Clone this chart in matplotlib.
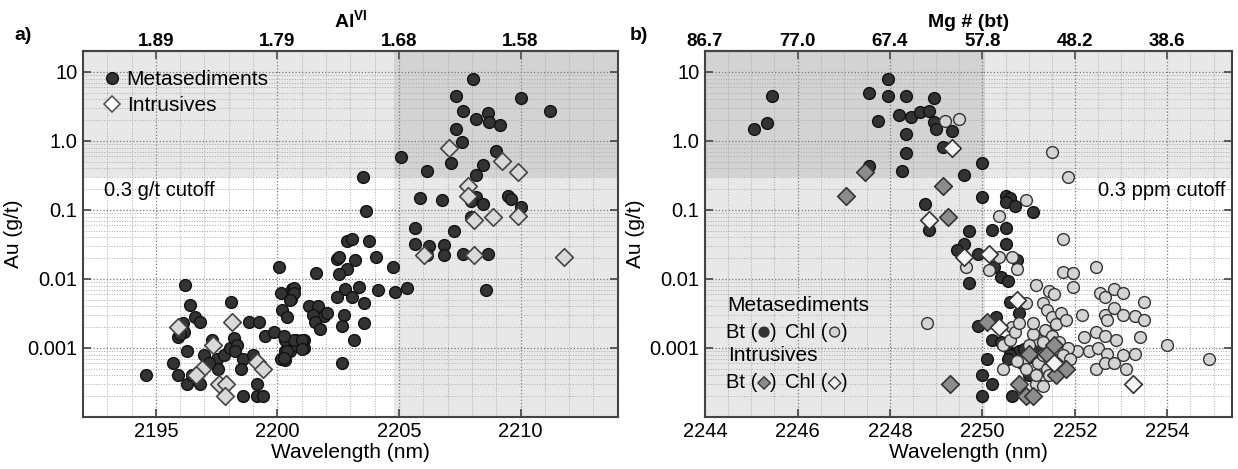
import matplotlib.pyplot as plt
from matplotlib.lines import Line2D
from matplotlib.ticker import FixedLocator, MultipleLocator, LogLocator, NullFormatter, NullLocator

plt.rcParams['font.family'] = ['Liberation Sans', 'DejaVu Sans']
plt.rcParams['mathtext.fontset'] = 'custom'
plt.rcParams['mathtext.rm'] = 'Liberation Sans'
plt.rcParams['mathtext.bf'] = 'Liberation Sans:bold'

# ---- panel a: AlOH wavelength vs Au ----
a_meta_wl = [2194.6, 2196.2, 2196.4, 2196.6, 2196.8, 2196.1, 2196.15, 2195.9, 2196.3, 2195.7,
             2195.9, 2196.3, 2196.8, 2196.5, 2197.0, 2197.3, 2198.1, 2197.5, 2197.55, 2197.8,
             2198.05, 2198.2, 2198.35, 2198.25, 2198.6, 2198.5, 2198.85, 2199.25, 2199.0, 2199.15,
             2198.6, 2199.15, 2199.4, 2199.5, 2199.85, 2200.05, 2200.15, 2200.6, 2200.55, 2200.2,
             2200.4, 2200.3, 2200.15, 2200.3, 2200.75, 2201.1, 2200.5, 2200.75, 2201.1, 2200.3,
             2203.5, 2203.65, 2202.85, 2203.05, 2203.75, 2202.45, 2202.55, 2203.2, 2204.05, 2204.75,
             2202.85, 2202.55, 2201.6, 2203.35, 2204.15, 2204.85, 2205.35, 2202.8, 2202.45, 2203.05,
             2203.55, 2202.75, 2202.65, 2203.55, 2203.15, 2202.65, 2201.3, 2201.65, 2201.45, 2201.9,
             2201.55, 2201.75, 2202.05, 2200.7, 2200.7, 2200.5, 2200.7, 2201.0, 2201.0, 2200.4,
             2200.25, 2200.25, 2197.2, 2196.0,
             2208.05, 2207.35, 2210.0, 2211.2, 2207.65, 2208.15, 2208.65, 2208.7, 2209.15, 2207.35,
             2207.6, 2205.1, 2209.0, 2208.45, 2207.15, 2206.15, 2208.15, 2205.85, 2206.75, 2208.15,
             2207.95, 2208.45, 2209.5, 2209.6, 2210.0, 2207.95, 2205.65, 2207.25, 2205.65, 2206.25,
             2206.85, 2206.15, 2206.85, 2207.65, 2208.65, 2208.6]
a_meta_au = [0.0004, 0.0081, 0.0042, 0.0028, 0.0024, 0.0023, 0.0017, 0.00145, 0.00091, 0.0006,
             0.00041, 0.0003, 0.0003, 0.0004, 0.0008, 0.0013, 0.0046, 0.00069, 0.0005, 0.0008,
             0.001, 0.0014, 0.0011, 0.0009, 0.00069, 0.0005, 0.0024, 0.0024, 0.0008, 0.0003,
             0.0002, 0.0002, 0.0002, 0.0015, 0.0017, 0.0147, 0.0062, 0.0072, 0.0051, 0.0036,
             0.0028, 0.0009, 0.0007, 0.0013, 0.0013, 0.0013, 0.0009, 0.0011, 0.001, 0.00066,
             0.30, 0.095, 0.036, 0.038, 0.036, 0.0195, 0.021, 0.0186, 0.021, 0.015,
             0.0138, 0.0117, 0.0123, 0.0076, 0.0069, 0.0065, 0.0074, 0.0071, 0.0055, 0.0055,
             0.0045, 0.0030, 0.0021, 0.0023, 0.0013, 0.0006, 0.004, 0.004, 0.003, 0.0029,
             0.0024, 0.0019, 0.0032, 0.0074, 0.0062, 0.005, 0.0013, 0.0013, 0.00095, 0.0009,
             0.00072, 0.0015, 0.0006, 0.0016,
             7.9, 4.5, 4.2, 2.7, 2.7, 2.1, 2.5, 1.87, 1.7, 1.5,
             0.98, 0.59, 0.71, 0.45, 0.48, 0.37, 0.32, 0.15, 0.138, 0.155,
             0.135, 0.123, 0.158, 0.144, 0.11, 0.079, 0.054, 0.049, 0.032, 0.030,
             0.031, 0.022, 0.022, 0.023, 0.023, 0.0069]
a_intr_wl = [2195.9, 2198.15, 2197.35, 2196.9, 2196.65, 2199.15, 2199.4, 2197.6, 2197.9, 2197.85,
             2207.05, 2209.25, 2209.9, 2207.85, 2207.85, 2208.1, 2208.85, 2209.9, 2206.05, 2208.1,
             2211.8]
a_intr_au = [0.002, 0.0024, 0.0011, 0.0005, 0.0004, 0.00063, 0.00049, 0.0003, 0.0003, 0.0002,
             0.78, 0.51, 0.36, 0.22, 0.158, 0.071, 0.078, 0.081, 0.022, 0.022,
             0.021]
a_top_ticks = [2195, 2200, 2205, 2210]
a_top_labels = ['1.89', '1.79', '1.68', '1.58']

# ---- panel b: FeOH/MgOH wavelength vs Au ----
b_meta_bt_wl = [2245.45, 2245.05, 2245.35, 2247.55, 2247.95, 2247.95, 2248.35, 2248.95, 2247.75, 2248.2,
                2248.45, 2248.65, 2248.85, 2248.95, 2249.0, 2249.35, 2248.35, 2248.35, 2249.15, 2247.55,
                2248.25, 2250.0, 2249.6, 2250.0, 2248.75, 2248.85, 2249.7, 2250.2, 2249.6, 2249.45,
                2249.9, 2249.7, 2250.5, 2250.6, 2250.5, 2250.7, 2251.1, 2250.5, 2250.25, 2250.75,
                2250.4, 2250.55, 2250.5, 2250.6, 2250.8, 2249.9, 2250.3, 2250.2, 2250.5, 2250.7,
                2250.8, 2250.6, 2250.1, 2250.0, 2250.2, 2250.0, 2250.55, 2250.65, 2251.0, 2250.85,
                2250.9, 2250.4, 2251.05, 2251.2]
b_meta_bt_au = [4.5, 1.5, 1.8, 4.9, 7.9, 4.5, 4.5, 4.2, 1.96, 2.4,
                2.2, 2.6, 2.7, 1.9, 1.5, 1.4, 1.25, 0.66, 0.81, 0.44,
                0.37, 0.48, 0.32, 0.152, 0.12, 0.052, 0.049, 0.051, 0.032, 0.026,
                0.023, 0.0087, 0.16, 0.15, 0.13, 0.115, 0.093, 0.055, 0.0148, 0.019,
                0.0107, 0.0093, 0.032, 0.0046, 0.0032, 0.0021, 0.0028, 0.0013, 0.00105, 0.00085,
                0.0009, 0.0008, 0.0007, 0.0004, 0.0003, 0.0002, 0.00068, 0.0002, 0.0004, 0.0006,
                0.00095, 0.0012, 0.00075, 0.001]
b_meta_chl_wl = [2249.2, 2249.5, 2251.5, 2251.85, 2250.95, 2250.35, 2249.65, 2250.15, 2250.35, 2250.65,
                 2250.75, 2251.15, 2248.8, 2250.95, 2250.65, 2250.45, 2250.45, 2251.15, 2251.2, 2251.75,
                 2251.75, 2251.95, 2251.95, 2252.45, 2252.55, 2252.65, 2252.85, 2253.05, 2253.5, 2251.45,
                 2251.55, 2252.15, 2252.65, 2252.85, 2252.7, 2253.05, 2253.3, 2253.5, 2252.45, 2252.65,
                 2252.2, 2252.9, 2253.4, 2254.0, 2254.9, 2252.3, 2252.5, 2252.7, 2253.05, 2253.3,
                 2252.45, 2252.65, 2252.85, 2253.1, 2252.05, 2251.3, 2251.4, 2251.5, 2251.6, 2251.7,
                 2251.8, 2251.35, 2251.5, 2251.65, 2251.85, 2251.45, 2251.3, 2251.75, 2251.6, 2251.4,
                 2251.9, 2251.2, 2251.1, 2251.0, 2250.9, 2250.95, 2250.75, 2250.6, 2250.7, 2251.1,
                 2251.3, 2251.45, 2251.7, 2251.15, 2251.3, 2250.8]
b_meta_chl_au = [1.97, 2.1, 0.68, 0.30, 0.14, 0.081, 0.015, 0.0135, 0.021, 0.021,
                 0.0138, 0.0083, 0.0023, 0.0045, 0.002, 0.0011, 0.0005, 0.0003, 0.0006, 0.038,
                 0.0126, 0.012, 0.0076, 0.0148, 0.0063, 0.0055, 0.0072, 0.0062, 0.0046, 0.0066,
                 0.0060, 0.003, 0.003, 0.0038, 0.0025, 0.003, 0.0029, 0.0025, 0.0017, 0.0015,
                 0.00145, 0.0013, 0.00145, 0.0011, 0.0007, 0.0009, 0.001, 0.00083, 0.00079, 0.00081,
                 0.0005, 0.0006, 0.0006, 0.0005, 0.0009, 0.0045, 0.0035, 0.0028, 0.0022, 0.0032,
                 0.0025, 0.0018, 0.0015, 0.0012, 0.001, 0.0009, 0.0008, 0.0008, 0.0006, 0.0005,
                 0.0007, 0.0013, 0.0016, 0.0011, 0.0007, 0.0005, 0.00065, 0.0013, 0.0017, 0.0023,
                 0.0012, 0.0004, 0.0005, 0.0004, 0.00028, 0.0023]
b_intr_bt_wl = [2247.45, 2247.05, 2249.15, 2249.25, 2249.3, 2250.1, 2251.0, 2250.8, 2250.95, 2251.1,
                2251.4, 2251.55, 2251.6, 2251.8]
b_intr_bt_au = [0.36, 0.158, 0.22, 0.078, 0.0003, 0.0024, 0.00081, 0.0003, 0.0002, 0.0002,
                0.00081, 0.0011, 0.0004, 0.0005]
b_intr_chl_wl = [2249.35, 2248.85, 2249.6, 2250.15, 2250.75, 2250.35, 2251.55, 2253.25]
b_intr_chl_au = [0.78, 0.072, 0.021, 0.023, 0.0049, 0.002, 0.0006, 0.0003]
b_top_ticks = [2244, 2246, 2248, 2250, 2252, 2254]
b_top_labels = ['86.7', '77.0', '67.4', '57.8', '48.2', '38.6']

y_ticks = [0.001, 0.01, 0.1, 1, 10]
y_labels = ['0.001', '0.01', '0.1', '1.0', '10']

DARK = '#333333'
SPINE = '#444444'
FS = 14.5


def style_axis(ax, xlim, major, minor, top_ticks, top_labels, top_title):
    ax.set_yscale('log')
    ax.set_xlim(*xlim)
    ax.set_ylim(1e-4, 20)
    ax.xaxis.set_major_locator(MultipleLocator(major))
    ax.xaxis.set_minor_locator(MultipleLocator(minor))
    ax.yaxis.set_major_locator(FixedLocator(y_ticks))
    ax.set_yticklabels(y_labels)
    ax.yaxis.set_minor_locator(LogLocator(subs=range(2, 10)))
    ax.yaxis.set_minor_formatter(NullFormatter())
    ax.grid(which='major', ls=':', color='#777777', lw=0.9)
    ax.grid(which='minor', ls=':', color='#aaaaaa', lw=0.7)
    ax.set_axisbelow(True)
    ax.tick_params(which='major', direction='in', length=6, width=1.2, color=SPINE,
                   labelsize=FS, right=True, top=False, pad=4)
    ax.tick_params(which='minor', length=0)
    for s in ax.spines.values():
        s.set_color(SPINE)
        s.set_linewidth(1.5)
    ax.set_xlabel('Wavelength (nm)', fontsize=15, labelpad=1)
    ax.set_ylabel('Au (g/t)', fontsize=15, labelpad=3)

    sec = ax.secondary_xaxis('top')
    sec.set_ticks(top_ticks, labels=top_labels)
    sec.xaxis.set_minor_locator(NullLocator())
    sec.tick_params(direction='in', length=6, width=1.2, color=SPINE, labelsize=13.5, pad=1)
    for lab in sec.get_xticklabels():
        lab.set_fontweight('bold')
    sec.spines['top'].set_color(SPINE)
    sec.spines['top'].set_linewidth(1.5)
    sec.set_xlabel(top_title, fontsize=14, fontweight='bold', labelpad=4)


fig = plt.figure(figsize=(12.38, 4.69), dpi=100)
ax1 = fig.add_axes([0.067, 0.111, 0.432, 0.780])
ax2 = fig.add_axes([0.5695, 0.111, 0.4257, 0.780])

# panel a
ax1.axhspan(0.3, 20, color='k', alpha=0.09, lw=0, zorder=0)
ax1.axvspan(2204.8, 2214, color='k', alpha=0.09, lw=0, zorder=0)
ax1.scatter(a_meta_wl, a_meta_au, s=72, marker='o', c=DARK, edgecolors='#111111',
            linewidths=1.0, zorder=3)
ax1.scatter(a_intr_wl, a_intr_au, s=80, marker='D', c='#d9d9d9', edgecolors='#444444',
            linewidths=1.2, zorder=4)
style_axis(ax1, (2192, 2214), 5, 1, a_top_ticks, a_top_labels, r'$\mathbf{Al^{VI}}$')
ax1.text(2192.85, 0.19, '0.3 g/t cutoff', fontsize=FS, va='center', ha='left')
handles = [Line2D([], [], ls='', marker='o', ms=8.5, mfc=DARK, mec='#111111'),
           Line2D([], [], ls='', marker='D', ms=8, mfc='white', mec='#555555', mew=1.2)]
ax1.legend(handles, ['Metasediments', 'Intrusives'], loc='upper left', fontsize=15,
           frameon=False, handletextpad=0.2, labelspacing=0.35, borderaxespad=0.5,
           handlelength=1.0)

# panel b
ax2.axhspan(0.3, 20, color='k', alpha=0.09, lw=0, zorder=0)
ax2.axvspan(2244, 2250.05, color='k', alpha=0.09, lw=0, zorder=0)
ax2.scatter(b_meta_bt_wl, b_meta_bt_au, s=72, marker='o', c=DARK, edgecolors='#111111',
            linewidths=1.0, zorder=3)
ax2.scatter(b_meta_chl_wl, b_meta_chl_au, s=72, marker='o', c='#d4d4d4', edgecolors='#333333',
            linewidths=1.0, zorder=3)
ax2.scatter(b_intr_bt_wl, b_intr_bt_au, s=80, marker='D', c='#8c8c8c', edgecolors='#333333',
            linewidths=1.2, zorder=4)
ax2.scatter(b_intr_chl_wl, b_intr_chl_au, s=80, marker='D', c='#f4f4f4', edgecolors='#333333',
            linewidths=1.2, zorder=4)
style_axis(ax2, (2244, 2255.4), 2, 0.5, b_top_ticks, b_top_labels, 'Mg # (bt)')
ax2.text(2255.25, 0.19, '0.3 ppm cutoff', fontsize=FS, va='center', ha='right')

# group key drawn inside panel b
tr = ax2.transAxes
ax2.text(0.043, 0.306, 'Metasediments', transform=tr, fontsize=15, va='center')
ax2.text(0.043, 0.167, 'Intrusives', transform=tr, fontsize=15, va='center')
for yk, (m, c1, c2) in zip([0.232, 0.093], [('o', DARK, '#d4d4d4'), ('D', '#8c8c8c', '#f4f4f4')]):
    ax2.text(0.0987, yk, 'Bt (', transform=tr, fontsize=FS, va='center', ha='right')
    ax2.text(0.1233, yk, ')', transform=tr, fontsize=FS, va='center')
    ax2.text(0.2326, yk, 'Chl (', transform=tr, fontsize=FS, va='center', ha='right')
    ax2.text(0.2573, yk, ')', transform=tr, fontsize=FS, va='center')
    ax2.scatter([0.112, 0.2459], [yk, yk], transform=tr, s=50 if m == 'o' else 40, marker=m,
                c=[c1, c2], edgecolors='#333333', linewidths=1.0, zorder=5, clip_on=False)

fig.text(0.012, 0.915, 'a)', fontsize=14, fontweight='bold')
fig.text(0.509, 0.915, 'b)', fontsize=14, fontweight='bold')

fig.savefig('out.png', dpi=100)
